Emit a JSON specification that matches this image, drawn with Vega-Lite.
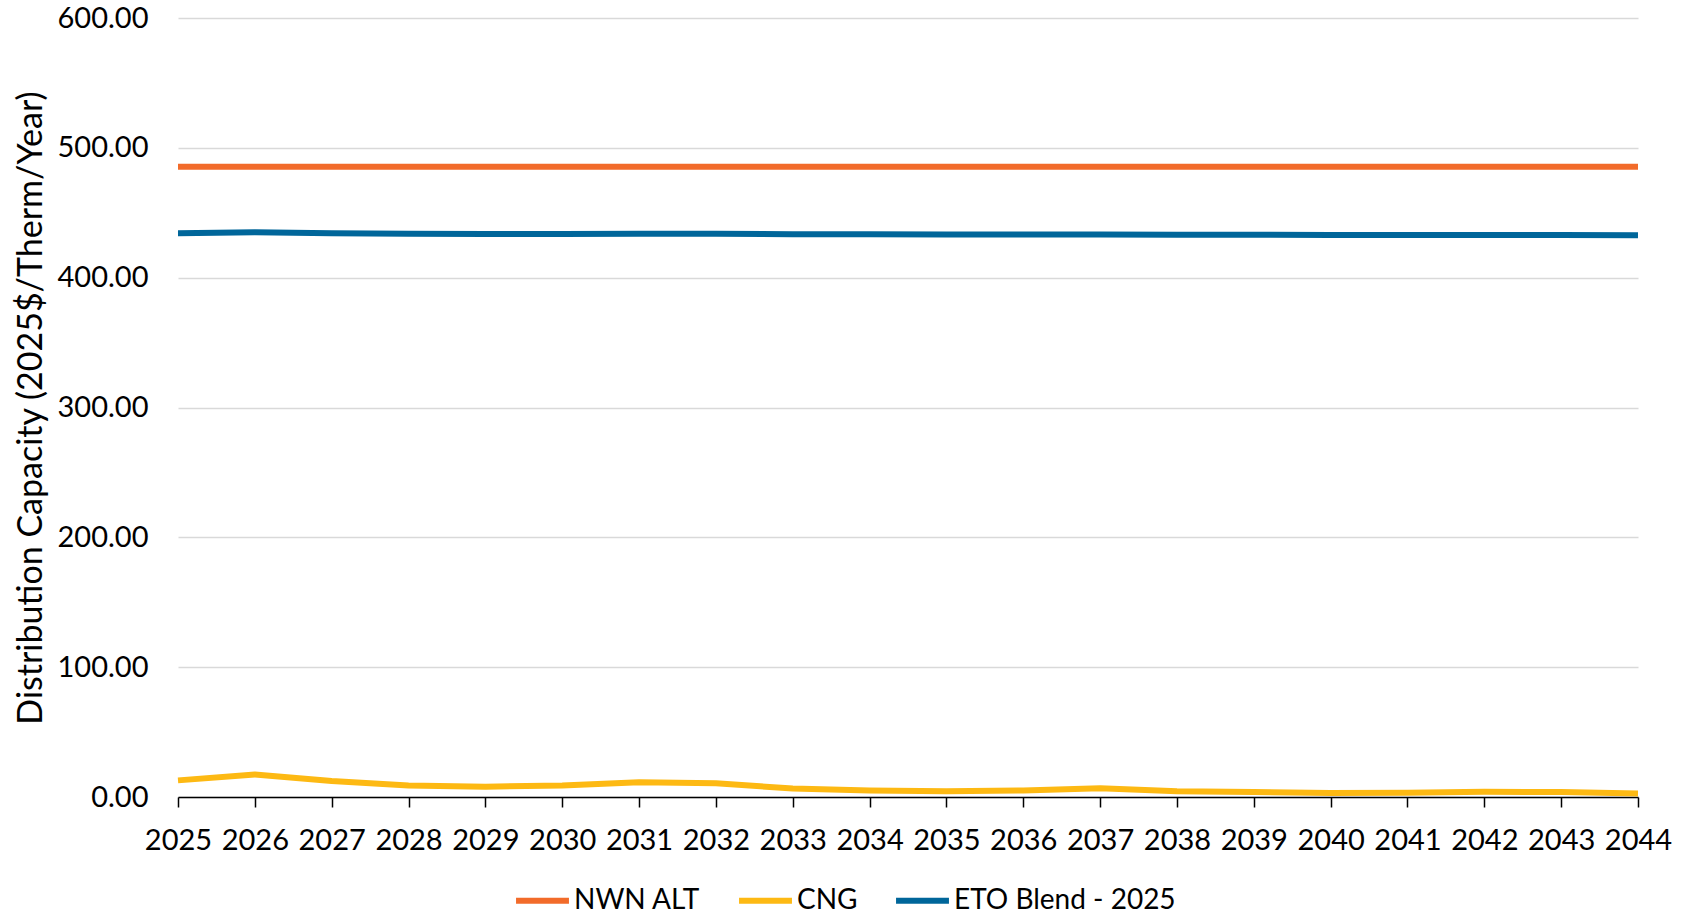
{
  "$schema": "https://vega.github.io/schema/vega-lite/v6.json",
  "width": 1460,
  "height": 779,
  "autosize": {"type": "none"},
  "padding": {"left": 178, "top": 18, "right": 50, "bottom": 119},
  "background": "white",
  "config": {
    "view": {"stroke": null},
    "font": "Lato",
    "axis": {"labelFont": "Lato", "titleFont": "Lato", "labelColor": "#000000", "titleColor": "#000000"}
  },
  "data": {
    "values": [
      {"year": "2025", "series": "NWN ALT", "value": 485.5},
      {"year": "2026", "series": "NWN ALT", "value": 485.5},
      {"year": "2027", "series": "NWN ALT", "value": 485.5},
      {"year": "2028", "series": "NWN ALT", "value": 485.5},
      {"year": "2029", "series": "NWN ALT", "value": 485.5},
      {"year": "2030", "series": "NWN ALT", "value": 485.5},
      {"year": "2031", "series": "NWN ALT", "value": 485.5},
      {"year": "2032", "series": "NWN ALT", "value": 485.5},
      {"year": "2033", "series": "NWN ALT", "value": 485.5},
      {"year": "2034", "series": "NWN ALT", "value": 485.5},
      {"year": "2035", "series": "NWN ALT", "value": 485.5},
      {"year": "2036", "series": "NWN ALT", "value": 485.5},
      {"year": "2037", "series": "NWN ALT", "value": 485.5},
      {"year": "2038", "series": "NWN ALT", "value": 485.5},
      {"year": "2039", "series": "NWN ALT", "value": 485.5},
      {"year": "2040", "series": "NWN ALT", "value": 485.5},
      {"year": "2041", "series": "NWN ALT", "value": 485.5},
      {"year": "2042", "series": "NWN ALT", "value": 485.5},
      {"year": "2043", "series": "NWN ALT", "value": 485.5},
      {"year": "2044", "series": "NWN ALT", "value": 485.5},
      {"year": "2025", "series": "CNG", "value": 12.8},
      {"year": "2026", "series": "CNG", "value": 17.4},
      {"year": "2027", "series": "CNG", "value": 12.3},
      {"year": "2028", "series": "CNG", "value": 8.9},
      {"year": "2029", "series": "CNG", "value": 7.9},
      {"year": "2030", "series": "CNG", "value": 8.9},
      {"year": "2031", "series": "CNG", "value": 11.3},
      {"year": "2032", "series": "CNG", "value": 10.5},
      {"year": "2033", "series": "CNG", "value": 6.6},
      {"year": "2034", "series": "CNG", "value": 5.1},
      {"year": "2035", "series": "CNG", "value": 4.4},
      {"year": "2036", "series": "CNG", "value": 5.1},
      {"year": "2037", "series": "CNG", "value": 6.7},
      {"year": "2038", "series": "CNG", "value": 4.4},
      {"year": "2039", "series": "CNG", "value": 3.8},
      {"year": "2040", "series": "CNG", "value": 3.1},
      {"year": "2041", "series": "CNG", "value": 3.3},
      {"year": "2042", "series": "CNG", "value": 4.1},
      {"year": "2043", "series": "CNG", "value": 3.8},
      {"year": "2044", "series": "CNG", "value": 2.6},
      {"year": "2025", "series": "ETO Blend - 2025", "value": 434.3},
      {"year": "2026", "series": "ETO Blend - 2025", "value": 434.9},
      {"year": "2027", "series": "ETO Blend - 2025", "value": 434.3},
      {"year": "2028", "series": "ETO Blend - 2025", "value": 433.8},
      {"year": "2029", "series": "ETO Blend - 2025", "value": 433.7},
      {"year": "2030", "series": "ETO Blend - 2025", "value": 433.7},
      {"year": "2031", "series": "ETO Blend - 2025", "value": 433.9},
      {"year": "2032", "series": "ETO Blend - 2025", "value": 433.9},
      {"year": "2033", "series": "ETO Blend - 2025", "value": 433.5},
      {"year": "2034", "series": "ETO Blend - 2025", "value": 433.4},
      {"year": "2035", "series": "ETO Blend - 2025", "value": 433.2},
      {"year": "2036", "series": "ETO Blend - 2025", "value": 433.3},
      {"year": "2037", "series": "ETO Blend - 2025", "value": 433.3},
      {"year": "2038", "series": "ETO Blend - 2025", "value": 433.0},
      {"year": "2039", "series": "ETO Blend - 2025", "value": 433.0},
      {"year": "2040", "series": "ETO Blend - 2025", "value": 432.9},
      {"year": "2041", "series": "ETO Blend - 2025", "value": 432.9},
      {"year": "2042", "series": "ETO Blend - 2025", "value": 432.9},
      {"year": "2043", "series": "ETO Blend - 2025", "value": 432.8},
      {"year": "2044", "series": "ETO Blend - 2025", "value": 432.6}
    ]
  },
  "mark": {"type": "line", "strokeWidth": 6, "strokeJoin": "round"},
  "encoding": {
    "x": {
      "field": "year",
      "type": "ordinal",
      "scale": {"type": "point", "padding": 0},
      "axis": {
        "title": null,
        "labelAngle": 0,
        "labelFontSize": 29,
        "labelPadding": 19,
        "tickSize": 10,
        "tickColor": "#000000",
        "tickWidth": 1.5,
        "domainColor": "#000000",
        "domainWidth": 1.5,
        "grid": false
      }
    },
    "y": {
      "field": "value",
      "type": "quantitative",
      "scale": {"domain": [0, 600], "nice": false},
      "axis": {
        "title": "Distribution Capacity (2025$/Therm/Year)",
        "titleFontSize": 34,
        "titleFontWeight": "normal",
        "titlePadding": 9,
        "values": [0, 100, 200, 300, 400, 500, 600],
        "format": ".2f",
        "labelFontSize": 29,
        "labelPadding": 30,
        "ticks": false,
        "domain": false,
        "grid": true,
        "gridColor": "#D9D9D9",
        "gridWidth": 1.5
      }
    },
    "color": {
      "field": "series",
      "type": "nominal",
      "scale": {
        "domain": ["NWN ALT", "CNG", "ETO Blend - 2025"],
        "range": ["#F26B2A", "#FDB913", "#00669A"]
      },
      "legend": {
        "title": null,
        "orient": "none",
        "direction": "horizontal",
        "legendX": 335,
        "legendY": 853,
        "symbolType": "stroke",
        "symbolSize": 2800,
        "symbolStrokeWidth": 6,
        "labelFontSize": 28,
        "labelOffset": 2,
        "labelLimit": 500,
        "columnPadding": 26,
        "labelColor": "#000000"
      }
    }
  }
}
